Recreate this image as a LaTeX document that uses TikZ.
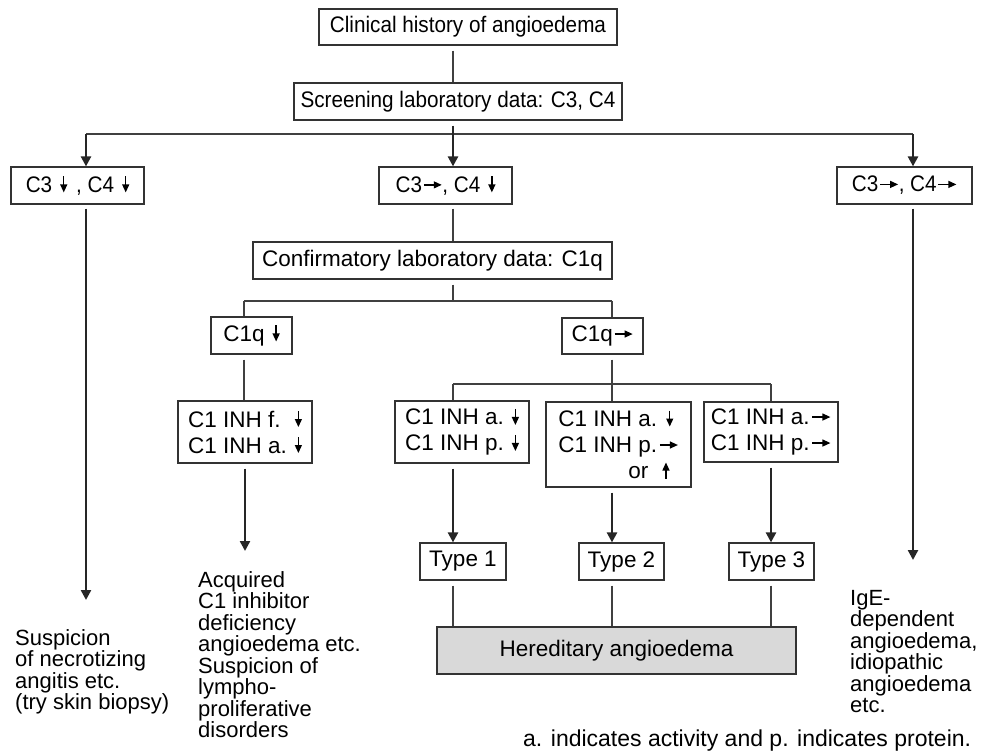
\documentclass[tikz,border=0pt]{standalone}
\usepackage{fontspec}
\setmainfont{Liberation Sans}
\newfontfamily\condfont[FakeStretch=0.92]{Liberation Sans}
\usetikzlibrary{arrows.meta}
\newcommand{\dnarr}{\tikz[baseline=0pt]\draw[line width=1.3pt,draw=black,-{Triangle[width=7pt,length=8pt]}] (0pt,16pt) -- (0pt,0pt);}
\newcommand{\uparr}{\tikz[baseline=0pt]\draw[line width=1.3pt,draw=black,-{Triangle[width=7pt,length=8pt]}] (0pt,0pt) -- (0pt,16pt);}
\newcommand{\rtarr}{\tikz[baseline=0pt]\draw[line width=1.3pt,draw=black,-{Triangle[width=7pt,length=8pt]}] (0pt,7.5pt) -- (18pt,7.5pt);}
\newcommand{\freefont}{\fontsize{22}{21.5}\selectfont\lineskiplimit=-50pt\relax}
\begin{document}
\begin{tikzpicture}[x=1pt,y=-1pt,
  box/.style={draw=black!80,line width=1.2pt,inner sep=0pt,align=center},
  cbox/.style={box,font=\condfont\fontsize{22.5}{26}\selectfont},
  nbox/.style={box,font=\fontsize{22.5}{26}\selectfont},
  thinline/.style={draw=black!75,line width=1.2pt},
  thickarrow/.style={draw=black!85,line width=2.4pt,-{Triangle[width=10pt,length=10pt]}},
  free/.style={inner sep=0pt,align=left,font=\freefont}]
\useasboundingbox (0,0) rectangle (985,752);
% boxes
\node[cbox,minimum width=298,minimum height=36] (clin) at (468,27) {Clinical history of angioedema};
\node[cbox,minimum width=328,minimum height=37] (scr) at (458,101.5) {Screening laboratory data: C3, C4};
\node[cbox,minimum width=133,minimum height=37] (c3a) at (77.5,185.5) {C3\hspace{8pt}\dnarr\hspace{9pt}, C4\hspace{8pt}\dnarr};
\node[cbox,minimum width=133,minimum height=37] (c3b) at (445.5,185.5) {C3\hspace{1pt}\rtarr, C4\hspace{8pt}\dnarr};
\node[cbox,minimum width=135,minimum height=37] (c3c) at (904.5,185.5) {C3\hspace{1pt}\rtarr, C4\hspace{1pt}\rtarr};
\node[nbox,minimum width=359,minimum height=37] (conf) at (432.5,260.5) {Confirmatory laboratory data: C1q};
\node[nbox,minimum width=81,minimum height=37] (c1qa) at (251.5,335.5) {C1q\hspace{8pt}\dnarr};
\node[nbox,minimum width=81,minimum height=36] (c1qb) at (602.5,336) {C1q\hspace{1pt}\rtarr};
\node[nbox,minimum width=134,minimum height=62,align=left] (inhf) at (245,432) {\rlap{C1 INH f.}\phantom{C1 INH a.}\hspace{8pt}\dnarr\\C1 INH a.\hspace{8pt}\dnarr};
\node[nbox,minimum width=134,minimum height=62,align=left] (t1box) at (462,432) {C1 INH a.\hspace{8pt}\dnarr\\C1 INH p.\hspace{8pt}\dnarr};
\node[nbox,minimum width=145,minimum height=85,align=left] (t2box) at (618.5,444.5) {C1 INH a.\hspace{9pt}\dnarr\\C1 INH p.\hspace{2pt}\rtarr\\\hspace*{70pt}or\hspace{14pt}\uparr};
\node[nbox,minimum width=134,minimum height=60,align=left] (t3box) at (771,432) {C1 INH a.\hspace{2pt}\rtarr\\C1 INH p.\hspace{2pt}\rtarr};
\node[nbox,minimum width=86,minimum height=37] (ty1) at (463,561.5) {Type 1};
\node[nbox,minimum width=85,minimum height=37] (ty2) at (621.5,561.5) {Type 2};
\node[nbox,minimum width=85,minimum height=37] (ty3) at (771.5,561.5) {Type 3};
\node[nbox,fill=black!15,minimum width=359,minimum height=47] (hered) at (616.5,650.5) {Hereditary angioedema};
% free texts
\node[free,anchor=north west] (susp) at (15,629) {Suspicion\\of necrotizing\\angitis etc.\\(try skin biopsy)};
\node[free,anchor=north west] (acq) at (198,571) {Acquired\\C1 inhibitor\\deficiency\\angioedema etc.\\Suspicion of\\lympho-\\proliferative\\disorders};
\node[free,anchor=north west] (ige) at (850,590) {IgE-\\dependent\\angioedema,\\idiopathic\\angioedema\\etc.};
\node[inner sep=0pt,anchor=base west,font=\fontsize{23}{26}\selectfont] (note) at (523,746) {a. indicates activity and p. indicates protein.};
% junction coordinates
\coordinate (jl) at (86,134);
\coordinate (jm) at (453,134);
\coordinate (jr) at (913,134);
\coordinate (tipl) at (86,600);
\coordinate (tipr) at (913,560);
\coordinate (tipa) at (245,551);
\coordinate (k1) at (453,301);
\coordinate (kl) at (244,301);
\coordinate (kr) at (612,301);
\coordinate (m1) at (453,384);
\coordinate (m2) at (612,384);
\coordinate (m3) at (771,384);
% connectors
\draw[thinline,shorten <=5pt] (clin.south -| jm) -- (scr.north -| jm);
\draw[thinline] (jl) -- (jr);
\draw[thickarrow,shorten <=5pt] (scr.south -| jm) -- (c3b.north -| jm);
\draw[thickarrow] (jl) -- (c3a.north -| jl);
\draw[thickarrow] (jr) -- (c3c.north -| jr);
\draw[thickarrow,shorten <=4pt] (c3a.south -| tipl) -- (tipl);
\draw[thickarrow,shorten <=4pt] (c3c.south -| tipr) -- (tipr);
\draw[thinline,shorten <=4pt] (c3b.south -| jm) -- (conf.north -| jm);
\draw[thinline,shorten <=5pt] (conf.south -| k1) -- (k1);
\draw[thinline] (kl) -- (kr);
\draw[thinline] (kl) -- (c1qa.north -| kl);
\draw[thinline] (kr) -- (c1qb.north -| kr);
\draw[thinline,shorten <=5pt] (c1qa.south -| kl) -- (inhf.north -| kl);
\draw[thickarrow,shorten <=5pt] (inhf.south -| tipa) -- (tipa);
\draw[thinline,shorten <=5pt] (c1qb.south -| m2) -- (m2);
\draw[thinline] (m1) -- (m3);
\draw[thinline] (m1) -- (t1box.north -| m1);
\draw[thinline] (m2) -- (t2box.north -| m2);
\draw[thinline] (m3) -- (t3box.north -| m3);
\draw[thickarrow,shorten <=5pt] (t1box.south -| m1) -- (ty1.north -| m1);
\draw[thickarrow,shorten <=5pt] (t2box.south -| m2) -- (ty2.north -| m2);
\draw[thickarrow,shorten <=5pt] (t3box.south -| m3) -- (ty3.north -| m3);
\draw[thinline,shorten <=5pt] (ty1.south -| m1) -- (hered.north -| m1);
\draw[thinline,shorten <=5pt] (ty2.south -| m2) -- (hered.north -| m2);
\draw[thinline,shorten <=5pt] (ty3.south -| m3) -- (hered.north -| m3);
\end{tikzpicture}
\end{document}
